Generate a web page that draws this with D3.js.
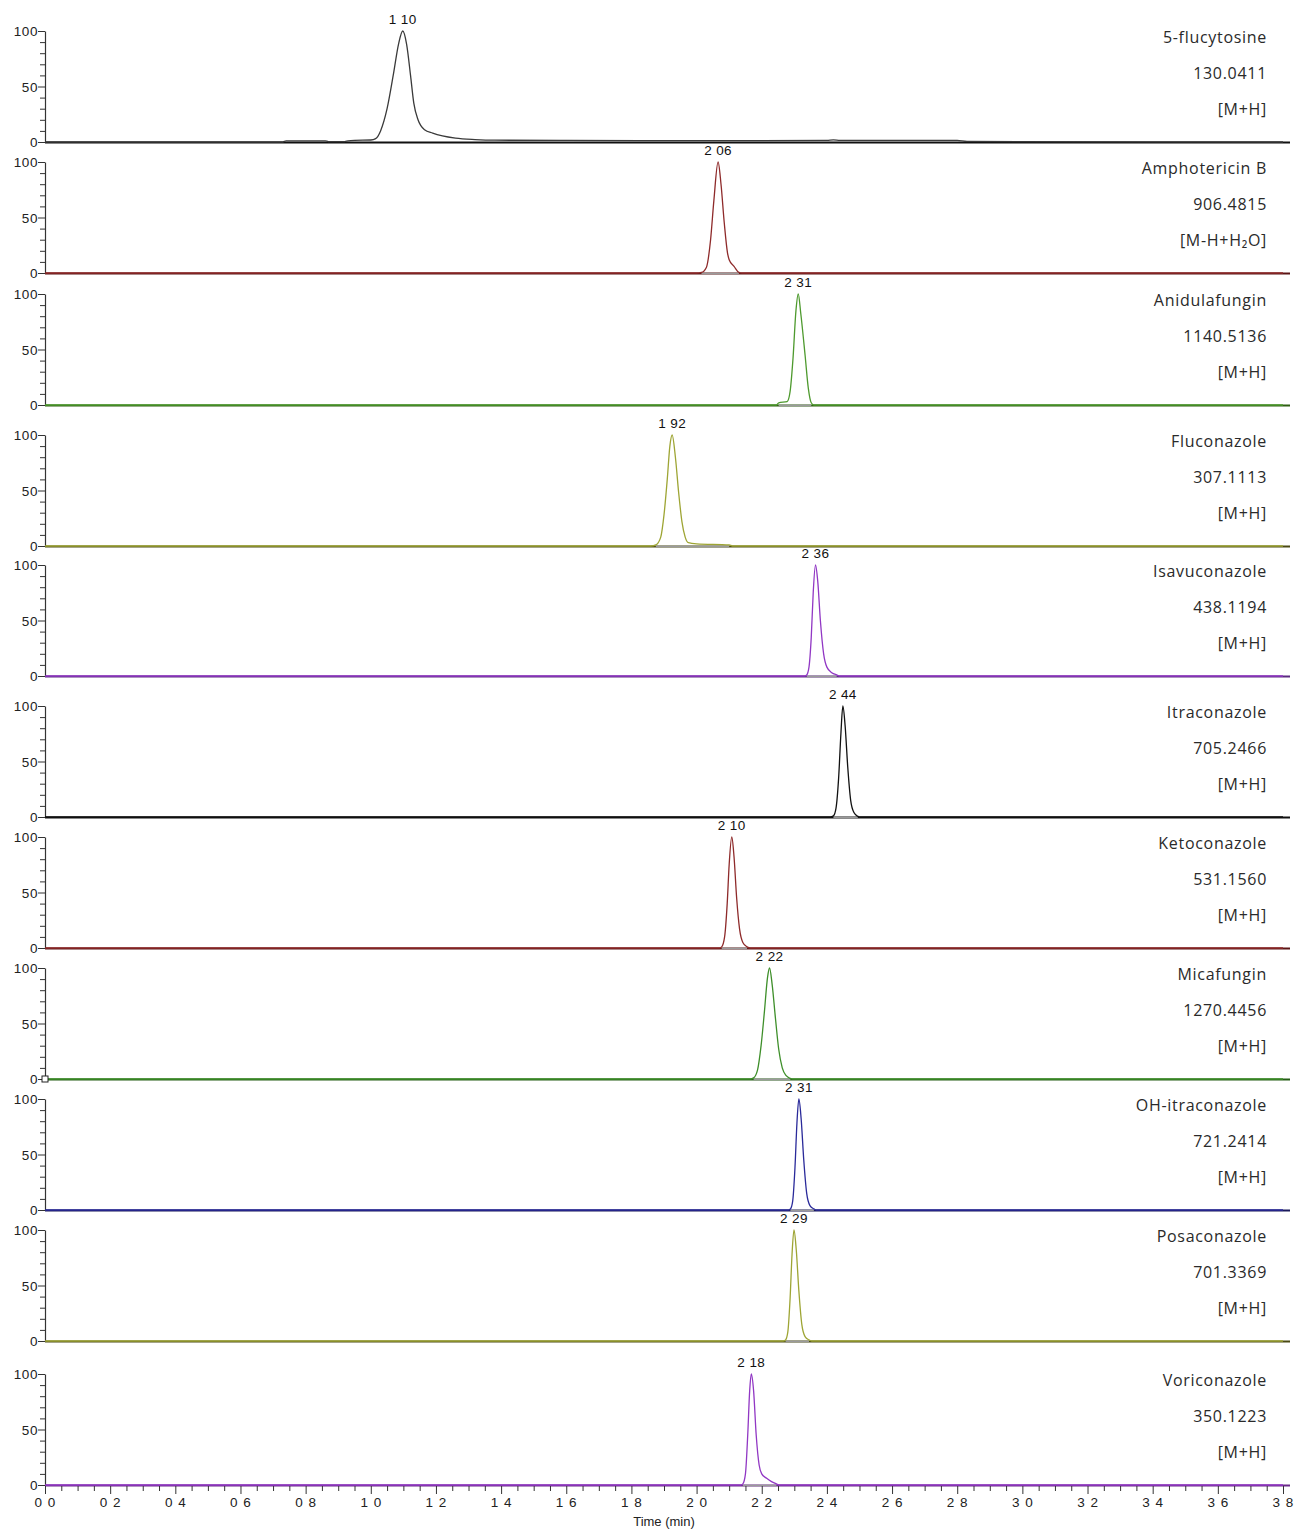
<!DOCTYPE html>
<html>
<head>
<meta charset="utf-8">
<script src="https://cdn.jsdelivr.net/npm/d3@7"></script>
<style>
  body { margin: 0; background: #fff; }
  svg text { font-family: "Liberation Sans", Arial, sans-serif; }
  .cmp { font-family: "Open Sans", sans-serif; font-size: 16px; letter-spacing: 0.7px; fill: #2a2a2a; }
</style>
</head>
<body>
<svg id="chart" width="1294" height="1529"></svg>
<script>
// compound names, m/z and adduct shown on the right of each trace
const compounds = ["5-flucytosine", "Amphotericin B", "Anidulafungin", "Fluconazole", "Isavuconazole",
  "Itraconazole", "Ketoconazole", "Micafungin", "OH-itraconazole", "Posaconazole", "Voriconazole"];
const masses = ["130.0411", "906.4815", "1140.5136", "307.1113", "438.1194",
  "705.2466", "531.1560", "1270.4456", "721.2414", "701.3369", "350.1223"];
const adducts = ["[M+H]", "[M-H+H\u2082O]", "[M+H]", "[M+H]", "[M+H]",
  "[M+H]", "[M+H]", "[M+H]", "[M+H]", "[M+H]", "[M+H]"];
// retention time labels as printed above each peak
const peakLabels = ["1 10", "2 06", "2 31", "1 92", "2 36", "2 44", "2 10", "2 22", "2 31", "2 29", "2 18"];
const peakTimes = [1.098, 2.066, 2.312, 1.925, 2.365, 2.449, 2.108, 2.224, 2.314, 2.299, 2.168];

// traces: [time (min), relative intensity %]
const flucytosine = [[0,0],[0.73,0],[0.74,1],[0.86,1],[0.87,0.4],[0.92,0.4],[0.93,1],[0.95,1.5],[1.0,1.8],[1.015,3],
  [1.03,10],[1.05,30],[1.07,62],[1.085,88],[1.098,100],[1.11,88],[1.122,60],[1.132,35],[1.145,20],[1.165,11],
  [1.19,8],[1.22,5.5],[1.26,3.5],[1.32,2.2],[1.38,1.6],[1.6,1.4],[2.0,1.2],[2.4,1.4],[2.42,2],[2.44,1.4],
  [2.8,1.4],[2.83,0.5],[3.8,0]];
const amphotericin = [[0,0],[2.0,0],[2.015,0.5],[2.03,5],[2.043,30],[2.053,65],[2.066,100],[2.075,80],[2.085,45],
  [2.095,18],[2.1,12],[2.115,6],[2.13,0.5],[2.14,0],[3.8,0]];
const anidulafungin = [[0,0],[2.245,0],[2.252,2],[2.278,3],[2.287,12],[2.296,42],[2.305,85],[2.312,100],[2.32,82],
  [2.333,45],[2.343,15],[2.352,2],[2.36,0],[3.8,0]];
const fluconazole = [[0,0],[1.86,0],[1.875,1],[1.89,8],[1.9,28],[1.91,60],[1.918,90],[1.925,100],[1.935,80],
  [1.945,48],[1.955,22],[1.965,8],[1.975,3],[2.0,2],[2.1,1],[2.11,0],[3.8,0]];
const isavuconazole = [[0,0],[2.33,0],[2.338,1],[2.345,8],[2.352,35],[2.358,75],[2.365,100],[2.372,85],[2.38,50],
  [2.39,20],[2.4,8],[2.415,3],[2.43,1],[2.44,0],[3.8,0]];
const itraconazole = [[0,0],[2.41,0],[2.42,1],[2.428,8],[2.436,35],[2.443,75],[2.449,100],[2.456,82],[2.464,45],
  [2.473,15],[2.483,4],[2.495,0.5],[2.5,0],[3.8,0]];
const ketoconazole = [[0,0],[2.07,0],[2.077,1],[2.086,10],[2.094,40],[2.1,75],[2.108,100],[2.115,82],[2.123,45],
  [2.132,17],[2.142,5],[2.155,1],[2.165,0],[3.8,0]];
const micafungin = [[0,0],[2.165,0],[2.175,1],[2.187,8],[2.198,30],[2.208,60],[2.218,92],[2.224,100],[2.232,85],
  [2.242,55],[2.252,27],[2.263,10],[2.275,3],[2.288,0.5],[2.295,0],[3.8,0]];
const ohItraconazole = [[0,0],[2.28,0],[2.288,1],[2.295,8],[2.302,38],[2.308,78],[2.314,100],[2.321,82],[2.329,45],
  [2.338,15],[2.348,4],[2.36,1],[2.368,0],[3.8,0]];
const posaconazole = [[0,0],[2.265,0],[2.273,1],[2.28,8],[2.287,38],[2.293,78],[2.299,100],[2.306,82],[2.314,45],
  [2.323,15],[2.333,4],[2.345,1],[2.353,0],[3.8,0]];
const voriconazole = [[0,0],[2.135,0],[2.142,1],[2.15,10],[2.157,45],[2.163,85],[2.168,100],[2.175,85],[2.183,45],
  [2.192,18],[2.2,10],[2.215,6],[2.23,3],[2.245,1],[2.255,0],[3.8,0]];

const traces = [flucytosine, amphotericin, anidulafungin, fluconazole, isavuconazole, itraconazole,
  ketoconazole, micafungin, ohItraconazole, posaconazole, voriconazole];
const xTickLabels = ["0 0","0 2","0 4","0 6","0 8","1 0","1 2","1 4","1 6","1 8","2 0",
  "2 2","2 4","2 6","2 8","3 0","3 2","3 4","3 6","3 8"];

// styling
const lineColors = ["#3a3a3a", "#8e2a2a", "#4e9a2e", "#9ea534", "#9137c4", "#111111",
  "#8e2a2a", "#3e8f2a", "#2a2a9a", "#9ea534", "#9137c4"];
const axisColors = ["#111111", "#5a1414", "#2f5e12", "#4a4a14", "#5a2a80", "#111111",
  "#5a1414", "#245c14", "#1a1a5a", "#4a4a14", "#6a2a8a"];
// baseline (y = 0) of each panel
const panelBase = [142, 273, 405, 546, 676, 817, 948, 1079, 1210, 1341, 1485];
const panelH = 111;

const svg = d3.select("#chart");
const x = d3.scaleLinear().domain([0, 3.8]).range([45, 1283]);

const line = d3.line().curve(d3.curveMonotoneX);

traces.forEach((trace, i) => {
    const base = panelBase[i];
    const y = d3.scaleLinear().domain([0, 100]).range([base, base - panelH]);
    const g = svg.append("g");

    // baseline axis
    g.append("line")
        .attr("x1", 45).attr("x2", 1290)
        .attr("y1", base + 0.5).attr("y2", base + 0.5)
        .attr("stroke", axisColors[i]).attr("stroke-width", 2);

    // grey integration baseline under the peak
    const peakPts = trace.filter(d => d[1] > 0);
    const ext = d3.extent(peakPts, d => d[0]);
    if (i > 0) {
        g.append("line")
            .attr("x1", x(ext[0])).attr("x2", x(ext[1]))
            .attr("y1", base + 0.5).attr("y2", base + 0.5)
            .attr("stroke", "#9a9a9a").attr("stroke-width", 1.5);
    }

    // y axis
    const yAxis = d3.axisLeft(y).tickValues(d3.range(0, 101, 10))
        .tickSize(0).tickFormat(d => (d % 50 === 0 ? d : ""));
    const ay = g.append("g").attr("transform", "translate(45,0)").call(yAxis);
    ay.select(".domain").attr("stroke", "#333").attr("stroke-width", 1.2);
    ay.selectAll(".tick line")
        .attr("x2", d => (d % 50 === 0 ? -7 : -5))
        .attr("stroke", "#333");
    ay.selectAll(".tick text")
        .attr("x", -7).attr("dy", "0.35em")
        .attr("font-size", 13.5).attr("letter-spacing", "0.6px").attr("fill", "#222");

    // trace
    g.append("path")
        .datum(trace.map(d => [x(d[0]), y(d[1])]))
        .attr("d", line)
        .attr("fill", "none")
        .attr("stroke", lineColors[i])
        .attr("stroke-width", 1.3);

    // peak label
    g.append("text")
        .attr("x", x(peakTimes[i]))
        .attr("y", y(100) - 7)
        .attr("text-anchor", "middle")
        .attr("font-size", 13.5)
        .attr("letter-spacing", "0.4px")
        .attr("fill", "#111")
        .text(peakLabels[i]);

    // compound info
    [compounds[i], masses[i], adducts[i]].forEach((t, k) => {
        g.append("text")
            .attr("class", "cmp")
            .attr("x", 1267)
            .attr("y", y(100) + 6 + k * 36)
            .attr("dy", "0.35em")
            .attr("text-anchor", "end")
            .text(t);
    });

    // small marker at origin of Micafungin panel
    if (compounds[i] === "Micafungin") {
        g.append("rect")
            .attr("x", 42).attr("y", base - 3)
            .attr("width", 6).attr("height", 6)
            .attr("fill", "#fff").attr("stroke", "#222");
    }
});

// bottom time axis
const last = panelBase[panelBase.length - 1];
const xAxis = d3.axisBottom(x).tickValues(d3.range(0, 77).map(d => d * 0.05))
    .tickSize(0).tickFormat("");
const ax = svg.append("g").attr("transform", `translate(0,${last + 1})`).call(xAxis);
ax.select(".domain").remove();
ax.selectAll(".tick line")
    .attr("y2", (d, i) => (i % 4 === 0 ? 8 : 5))
    .attr("stroke", "#333");

svg.append("g").selectAll("text")
    .data(xTickLabels)
    .join("text")
    .attr("x", (d, i) => x(i * 0.2) + 0.5)
    .attr("y", last + 22)
    .attr("text-anchor", "middle")
    .attr("font-size", 13.5)
    .attr("letter-spacing", "1px")
    .attr("fill", "#222")
    .text(d => d);

svg.append("text")
    .attr("x", x(1.9))
    .attr("y", last + 41)
    .attr("text-anchor", "middle")
    .attr("font-size", 13)
    .attr("fill", "#222")
    .text("Time (min)");
</script>
</body>
</html>
